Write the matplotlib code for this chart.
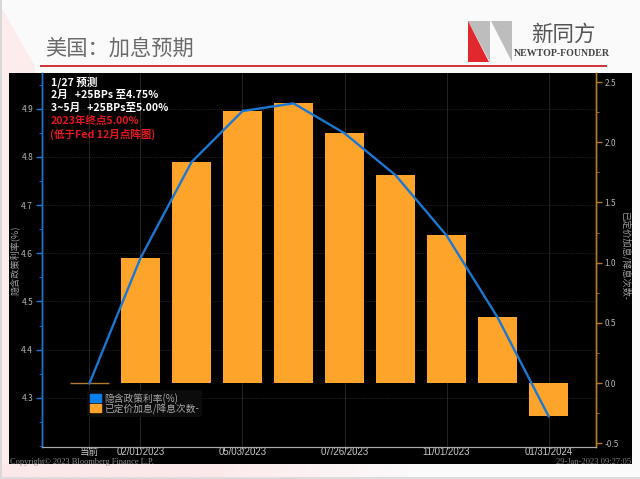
# US rate hike expectations slide

import numpy as np
import matplotlib
matplotlib.use('Agg')
import matplotlib.pyplot as plt
from matplotlib.colors import LinearSegmentedColormap
from matplotlib.patches import Polygon, Rectangle, Patch

plt.rcParams['font.family'] = ['Noto Sans CJK SC', 'DejaVu Sans']

# Data
positions = [0, 1, 2, 3, 4, 5, 6, 7, 8, 9]
implied_rate = [4.33, 4.59, 4.789, 4.895, 4.911, 4.849, 4.762, 4.637, 4.467, 4.262]
priced_hikes = [0.0, 1.04, 1.84, 2.26, 2.33, 2.08, 1.73, 1.23, 0.55, -0.27]
tick_positions = [0, 1, 3, 5, 7, 9]
tick_labels = ['当前', '02/01/2023', '05/03/2023', '07/26/2023', '11/01/2023', '01/31/2024']
left_ticks = [4.3, 4.4, 4.5, 4.6, 4.7, 4.8, 4.9]
left_minor = [4.2, 4.25, 4.35, 4.45, 4.55, 4.65, 4.75, 4.85, 4.95]
right_ticks = [-0.5, 0.0, 0.5, 1.0, 1.5, 2.0, 2.5]
right_minor = [-0.25, 0.25, 0.75, 1.25, 1.75, 2.25]

W, H = 640, 479
BLUE = '#1a78d2'
ORANGE = '#ffa42b'
BROWN = '#b5792a'
GREY = '#b4b4b4'

fig = plt.figure(figsize=(6.4, 4.79), dpi=100, facecolor='#fbfafb')

# Slide background, in pixel coordinates
bg = fig.add_axes([0, 0, 1, 1])
pink = LinearSegmentedColormap.from_list('pink', ['#fbe9ea', '#fbe9ea', '#fbfafb'])
bg.imshow(np.linspace(0, 1, 200).reshape(1, -1), cmap=pink, extent=(0, 420, 479, 464), aspect='auto')
bg.set_xlim(0, W)
bg.set_ylim(H, 0)
bg.axis('off')
bg.add_patch(Polygon([(0, 5), (35, 66), (35, 73), (9, 73), (9, 464), (0, 464)], color='#fcecec', lw=0))
bg.add_patch(Rectangle((0, 0), 2, 477, color='#d8d8d8', lw=0))
bg.add_patch(Rectangle((0, 476.5), W, 2.5, color='#dcdcdc', lw=0))
bg.add_patch(Rectangle((9, 73), 623, 391, color='black', lw=0))

# Title and rule
bg.text(45, 48.5, '美国\uff1a加息预期', fontsize=15.3, color='#6a6a6a', va='center', ha='left')
bg.plot([40, 607], [66, 66], color='#d2232a', lw=1.3, solid_capstyle='butt')

# Logo
bg.add_patch(Polygon([(468, 21), (490, 21), (490, 62)], color='#bdbdbd', lw=0))
bg.add_patch(Polygon([(468, 21), (489, 62), (468, 62)], color='#e0282d', lw=0))
bg.add_patch(Polygon([(491, 21), (512, 21), (512, 62)], color='#bdbdbd', lw=0))
bg.text(563, 34.5, '新同方', fontsize=15.5, color='#555555', ha='center', va='center')
bg.text(561.5, 53.5, 'NEWTOP-FOUNDER', fontsize=7.1, color='#444444', ha='center', va='center',
        family='Liberation Serif', weight='bold')

# Chart axes: left axis holds the grid, right axis sits on top with bars and line
ax = fig.add_axes([41.5 / W, 1 - 447 / H, (596 - 41.5) / W, (447 - 73) / H])
ax2 = ax.twinx()
ax.set_facecolor('black')
ax2.patch.set_visible(False)

x = np.array(positions)
bar_w = 0.78
ax2.bar(x, priced_hikes, width=bar_w, color=ORANGE)
ax2.hlines(priced_hikes[0], x[0] - bar_w / 2, x[0] + bar_w / 2, color=BROWN, lw=1)
ax2.plot(x, implied_rate, color=BLUE, lw=1.7, transform=ax.transData, zorder=5)

ax.set_xlim(-0.94, 9.93)
ax.set_ylim(4.198, 4.974)
ax2.set_ylim(-0.53, 2.575)

ax.set_xticks(tick_positions)
ax.set_xticklabels(tick_labels, fontsize=6.9, color='#c8c8c8', family=['Liberation Sans', 'Noto Sans CJK SC'])
ax.set_yticks(left_ticks)
ax.set_yticks(left_minor, minor=True)
ax.set_yticklabels(['%.1f' % v for v in left_ticks], fontsize=6, color=GREY)
ax2.set_yticks(right_ticks)
ax2.set_yticks(right_minor, minor=True)
ax2.set_yticklabels(['%.1f' % v for v in right_ticks], fontsize=6, color=GREY)

ax.tick_params(axis='x', length=1.5, width=0.6, color='#dddddd', pad=-1.5)
ax.tick_params(axis='y', which='major', length=4, width=1, color=BLUE, pad=2)
ax.tick_params(axis='y', which='minor', length=2, width=0.6, color=BLUE)
ax2.tick_params(axis='y', which='major', length=4, width=1, color=BROWN, pad=2)
ax2.tick_params(axis='y', which='minor', length=2, width=0.6, color=BROWN)

ax.grid(True, axis='y', color='#3a3a3a', lw=0.5, ls=':')
ax.grid(True, axis='x', color='#2a2a2a', lw=0.6, ls='-')
ax.set_axisbelow(True)

for a in (ax, ax2):
    a.spines['top'].set_visible(False)
    a.spines['left'].set_color(BLUE)
    a.spines['right'].set_color(BROWN)
    a.spines['bottom'].set_color('#a8a8a8')
    a.spines['left'].set_linewidth(1)
    a.spines['right'].set_linewidth(1)

# Overlay for text that has to sit above both axes
top = fig.add_axes([0, 0, 1, 1], zorder=10)
top.set_xlim(0, W)
top.set_ylim(H, 0)
top.axis('off')

# Axis titles
top.text(15, 260, '隐含政策利率(%)', rotation=90, fontsize=6.6, color='#a0a0a0', ha='center', va='center')
top.text(625, 255, '已定价加息/降息次数-', rotation=270, fontsize=6.6, color='#a0a0a0', ha='center', va='center')

# Legend
handles = [Patch(color='#0a7ff0'), Patch(color=ORANGE)]
leg = top.legend(handles, ['隐含政策利率(%)', '已定价加息/降息次数-'], loc='upper left',
                 bbox_to_anchor=(87 / W, 1 - 390 / H), bbox_transform=fig.transFigure,
                 fontsize=7, frameon=True, facecolor='#0c0c0c', edgecolor='none', framealpha=1,
                 labelcolor='#a8a8a8', handlelength=1.1, handleheight=0.9, handletextpad=0.35,
                 labelspacing=-0.05, borderpad=0.3, borderaxespad=0)
leg.get_frame().set_linewidth(0)

# Forecast notes
notes = [('1/27 预测', 'white', 51, 82), ('2月   +25BPs 至4.75%', 'white', 51, 95),
         ('3~5月   +25BPs至5.00%', 'white', 51, 108), ('2023年终点5.00%', '#e8141c', 51, 121),
         ('(低于Fed 12月点阵图)', '#e8141c', 50, 134)]
for s, c, tx, ty in notes:
    top.text(tx, ty, s, color=c, fontsize=7.6, weight='bold', ha='left', va='center')

# Footer
top.text(10, 461.5, 'Copyright© 2023 Bloomberg Finance L.P.', fontsize=6, color='#909090',
         family='Liberation Serif', ha='left', va='center')
top.text(631, 461.5, '29-Jan-2023 09:27:05', fontsize=6.1, color='#808080',
         family='Liberation Serif', ha='right', va='center')

fig.savefig('out.png', dpi=100, facecolor=fig.get_facecolor())
